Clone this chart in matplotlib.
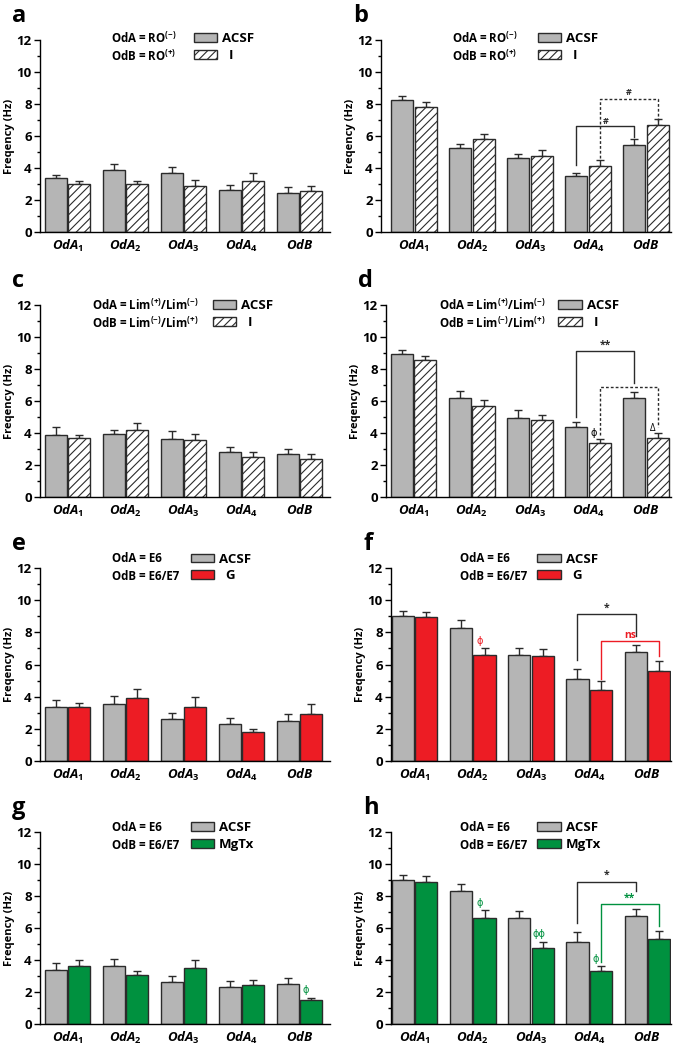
import numpy as np
import matplotlib.pyplot as plt
from matplotlib.patches import Patch

plt.rcParams['font.family'] = ['Open Sans', 'DejaVu Sans']
plt.rcParams['font.weight'] = 'bold'
plt.rcParams['axes.labelweight'] = 'bold'
plt.rcParams['mathtext.fontset'] = 'custom'
plt.rcParams['mathtext.it'] = 'Open Sans:italic:bold'
plt.rcParams['mathtext.rm'] = 'Open Sans:bold'
plt.rcParams['mathtext.bf'] = 'Open Sans:bold'
plt.rcParams['hatch.linewidth'] = 0.8

# Данные
groups = [r'$OdA_{1}$', r'$OdA_{2}$', r'$OdA_{3}$', r'$OdA_{4}$', r'$OdB$']

a_acsf = [3.35, 3.9, 3.7, 2.65, 2.45]
a_acsf_err = [0.2, 0.35, 0.35, 0.3, 0.35]
a_drug = [3.0, 3.0, 2.9, 3.2, 2.55]
a_drug_err = [0.2, 0.2, 0.35, 0.5, 0.3]

b_acsf = [8.25, 5.25, 4.65, 3.5, 5.45]
b_acsf_err = [0.25, 0.25, 0.2, 0.2, 0.35]
b_drug = [7.8, 5.8, 4.75, 4.15, 6.7]
b_drug_err = [0.35, 0.35, 0.4, 0.35, 0.35]

c_acsf = [3.9, 3.95, 3.65, 2.8, 2.7]
c_acsf_err = [0.45, 0.25, 0.45, 0.3, 0.3]
c_drug = [3.7, 4.2, 3.55, 2.5, 2.4]
c_drug_err = [0.2, 0.4, 0.4, 0.3, 0.3]

d_acsf = [8.95, 6.2, 4.95, 4.35, 6.2]
d_acsf_err = [0.25, 0.4, 0.5, 0.35, 0.35]
d_drug = [8.55, 5.7, 4.8, 3.35, 3.7]
d_drug_err = [0.25, 0.35, 0.35, 0.25, 0.3]

e_acsf = [3.35, 3.55, 2.6, 2.3, 2.5]
e_acsf_err = [0.45, 0.5, 0.4, 0.4, 0.4]
e_drug = [3.35, 3.9, 3.35, 1.8, 2.9]
e_drug_err = [0.25, 0.6, 0.6, 0.2, 0.65]

f_acsf = [9.0, 8.3, 6.6, 5.1, 6.75]
f_acsf_err = [0.3, 0.45, 0.45, 0.65, 0.45]
f_drug = [8.95, 6.6, 6.5, 4.4, 5.6]
f_drug_err = [0.3, 0.45, 0.45, 0.55, 0.6]

g_acsf = [3.4, 3.6, 2.6, 2.3, 2.5]
g_acsf_err = [0.4, 0.45, 0.4, 0.4, 0.4]
g_drug = [3.6, 3.05, 3.5, 2.45, 1.5]
g_drug_err = [0.4, 0.25, 0.5, 0.3, 0.15]

h_acsf = [9.0, 8.3, 6.6, 5.1, 6.75]
h_acsf_err = [0.3, 0.45, 0.45, 0.65, 0.45]
h_drug = [8.85, 6.65, 4.75, 3.3, 5.3]
h_drug_err = [0.4, 0.5, 0.4, 0.35, 0.5]

odA_ro = [r'OdA = RO$^{(\mathrm{-})}$', r'OdB = RO$^{(\mathrm{+})}$']
odA_lim = [r'OdA = Lim$^{(+)}$/Lim$^{(-)}$', r'OdB = Lim$^{(-)}$/Lim$^{(+)}$']
odA_e6 = ['OdA = E6', 'OdB = E6/E7']

GRAY = '#b5b5b5'
EDGE = '#2b2b2b'
RED = '#ed1c24'
GREEN = '#00913f'

W, H = 682, 1050
fig = plt.figure(figsize=(W / 100, H / 100), dpi=100)

# (буква, данные, текст, препарат, цвет, штриховка, x0, x1, y_top, y_bottom, xlim, текст x, патч x, ряд1 y)
panels = [
    ('a', a_acsf, a_acsf_err, a_drug, a_drug_err, odA_ro, 'I', 'white', '////', 40, 330, 40, 232, (-0.48, 4.52), 0.245, 0.55, 1.01),
    ('b', b_acsf, b_acsf_err, b_drug, b_drug_err, odA_ro, 'I', 'white', '////', 381, 671, 40, 232, (-0.57, 4.43), 0.245, 0.56, 1.01),
    ('c', c_acsf, c_acsf_err, c_drug, c_drug_err, odA_lim, 'I', 'white', '////', 40, 330, 305, 497, (-0.48, 4.52), 0.18, 0.615, 1.0),
    ('d', d_acsf, d_acsf_err, d_drug, d_drug_err, odA_lim, 'I', 'white', '////', 386, 671, 305, 497, (-0.48, 4.43), 0.186, 0.625, 1.0),
    ('e', e_acsf, e_acsf_err, e_drug, e_drug_err, odA_e6, 'G', RED, None, 40, 330, 568, 761, (-0.48, 4.52), 0.25, 0.54, 1.05),
    ('f', f_acsf, f_acsf_err, f_drug, f_drug_err, odA_e6, 'G', RED, None, 391, 671, 568, 761, (-0.41, 4.41), 0.246, 0.543, 1.05),
    ('g', g_acsf, g_acsf_err, g_drug, g_drug_err, odA_e6, 'MgTx', GREEN, None, 40, 330, 832, 1024, (-0.48, 4.52), 0.25, 0.54, 1.026),
    ('h', h_acsf, h_acsf_err, h_drug, h_drug_err, odA_e6, 'MgTx', GREEN, None, 391, 671, 832, 1024, (-0.41, 4.41), 0.246, 0.543, 1.026),
]

axes = {}
x = np.arange(len(groups))
bw = 0.38
off = 0.2
for (lab, acsf, acsf_err, drug, drug_err, txt, dname, dcol, hatch,
     px0, px1, py0, py1, xl, tx, patx, ry) in panels:
    ax = fig.add_axes([px0 / W, 1 - py1 / H, (px1 - px0) / W, (py1 - py0) / H])
    axes[lab] = ax
    ax.bar(x - off, acsf, bw, color=GRAY, edgecolor=EDGE, linewidth=1.0, zorder=2)
    ax.bar(x + off, drug, bw, color=dcol, edgecolor=EDGE, linewidth=1.0, hatch=hatch, zorder=2)
    ax.errorbar(x - off, acsf, yerr=[np.zeros(5), acsf_err], fmt='none', ecolor=EDGE,
                elinewidth=1.0, capsize=3, capthick=1.0, zorder=1)
    ax.errorbar(x + off, drug, yerr=[np.zeros(5), drug_err], fmt='none', ecolor=EDGE,
                elinewidth=1.0, capsize=3, capthick=1.0, zorder=1)
    ax.set_xlim(*xl)
    ax.set_ylim(0, 12)
    ax.set_yticks(np.arange(0, 13, 2))
    ax.set_yticks(np.arange(1, 12, 2), minor=True)
    ax.set_xticks(x)
    ax.set_xticklabels(groups, fontsize=9.5)
    ax.tick_params(axis='x', length=0, pad=4)
    ax.tick_params(axis='y', which='major', length=4, width=1, labelsize=9.5, pad=2)
    ax.tick_params(axis='y', which='minor', length=2, width=1)
    for s in ['top', 'right']:
        ax.spines[s].set_visible(False)
    for s in ['left', 'bottom']:
        ax.spines[s].set_linewidth(1.0)
    ax.set_ylabel('Freqency (Hz)', fontsize=8, labelpad=1)
    ax.text(tx, ry, txt[0], transform=ax.transAxes, fontsize=8.3, va='center', ha='left')
    ax.text(tx, ry - 0.095, txt[1], transform=ax.transAxes, fontsize=8.3, va='center', ha='left')
    handles = [Patch(facecolor=GRAY, edgecolor=EDGE, linewidth=1.0),
               Patch(facecolor=dcol, edgecolor=EDGE, linewidth=1.0, hatch=hatch)]
    dlabel = dname if dname == 'MgTx' else '  ' + dname
    ax.legend(handles, ['ACSF', dlabel], loc='center left', bbox_to_anchor=(patx - 0.02, ry - 0.0475),
              frameon=False, prop={'size': 9.5, 'weight': 'bold'}, handlelength=1.75, handleheight=0.65,
              handletextpad=0.4, labelspacing=0.3, borderaxespad=0, borderpad=0)
    fig.text((px0 - 28) / W, 1 - (py0 - 24) / H, lab, fontsize=17, fontweight='bold',
             va='center', ha='left')


def bracket(ax, i1, i2, y1, ytop, y2, color, ls, label, ly, fs=7.5):
    ax.plot([i1, i1, i2, i2], [y1, ytop, ytop, y2], color=color, ls=ls, lw=1.0, zorder=3)
    ax.text((i1 + i2) / 2, ly, label, color=color, ha='center', va='center', fontsize=fs)


# b
bracket(axes['b'], 3 - off, 4 - off, 4.2, 6.6, 5.95, EDGE, '-', '#', 6.9, 6.5)
bracket(axes['b'], 3 + off, 4 + off, 4.6, 8.3, 6.8, EDGE, (0, (2, 1.5)), '#', 8.7, 6.5)
# d
bracket(axes['d'], 3 - off, 4 - off, 5.0, 9.1, 7.1, EDGE, '-', '**', 9.5)
bracket(axes['d'], 3 + off, 4 + off, 3.9, 6.85, 4.4, EDGE, (0, (2, 1.5)), '', 7)
axes['d'].text(3 + off - 0.1, 3.95, 'ϕ', fontsize=7, fontweight='normal', ha='center', va='center')
axes['d'].text(4 + off - 0.08, 4.3, 'Δ', fontsize=7, fontweight='normal', ha='center', va='center')
# f
bracket(axes['f'], 3 - off, 4 - off, 6.25, 9.15, 7.75, EDGE, '-', '*', 9.5)
bracket(axes['f'], 3 + off, 4 + off, 5.1, 7.45, 6.5, RED, '-', 'ns', 7.8)
axes['f'].text(1 + off - 0.08, 7.45, 'ϕ', color=RED, fontsize=7, fontweight='normal', ha='center', va='center')
# g
axes['g'].text(4 + off - 0.1, 2.1, 'ϕ', color=GREEN, fontsize=7, fontweight='normal', ha='center', va='center')
# h
bracket(axes['h'], 3 - off, 4 - off, 6.3, 8.85, 8.3, EDGE, '-', '*', 9.3)
bracket(axes['h'], 3 + off, 4 + off, 3.9, 7.5, 6.1, GREEN, '-', '**', 7.85)
axes['h'].text(1 + off - 0.08, 7.55, 'ϕ', color=GREEN, fontsize=7, fontweight='normal', ha='center', va='center')
axes['h'].text(2 + off - 0.06, 5.6, 'ϕϕ', color=GREEN, fontsize=7, fontweight='normal', ha='center', va='center')
axes['h'].text(3 + off - 0.08, 4.0, 'ϕ', color=GREEN, fontsize=7, fontweight='normal', ha='center', va='center')

fig.savefig('out.png', dpi=100)
